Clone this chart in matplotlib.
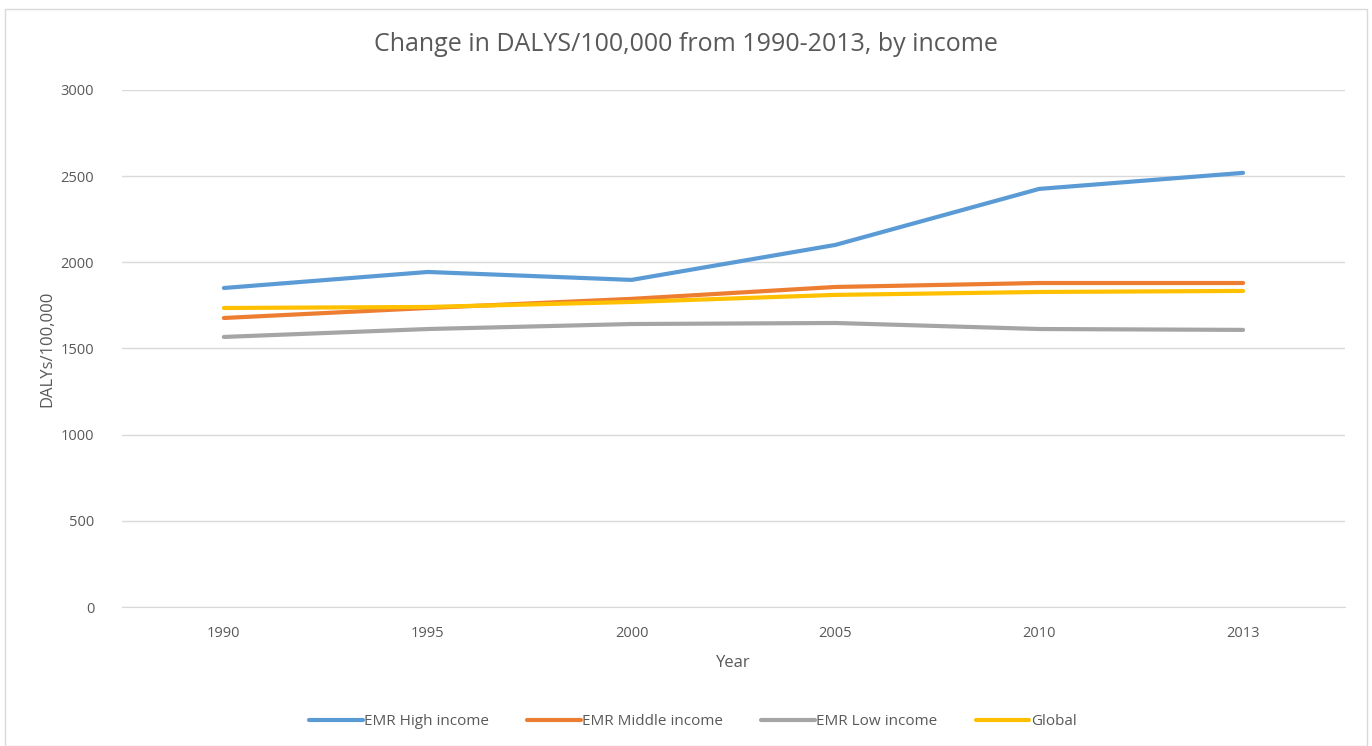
import numpy as np
import matplotlib
matplotlib.use('Agg')
import matplotlib.pyplot as plt
from matplotlib.patches import Rectangle

plt.rcParams['font.family'] = ['Open Sans', 'DejaVu Sans']

years = ['1990', '1995', '2000', '2005', '2010', '2013']
high_income = [1851, 1944, 1898, 2101, 2426, 2519]
middle_income = [1677, 1735, 1788, 1857, 1880, 1880]
low_income = [1567, 1613, 1642, 1648, 1613, 1608]
global_vals = [1735, 1741, 1770, 1811, 1828, 1834]

series = [
    ('EMR High income', high_income, '#5B9BD5'),
    ('EMR Middle income', middle_income, '#ED7D31'),
    ('EMR Low income', low_income, '#A5A5A5'),
    ('Global', global_vals, '#FFC000'),
]

fig = plt.figure(figsize=(13.72, 7.46), dpi=100)
fig.patches.append(Rectangle((5 / 1372, 0), 1362 / 1372, 737 / 746,
                             transform=fig.transFigure, fill=False,
                             edgecolor='#D9D9D9', linewidth=1))
ax = fig.add_axes([0.0889, 0.1863, 0.8914, 0.6931])

x = np.arange(len(years))
for name, vals, color in series:
    ax.plot(x, vals, color=color, linewidth=3, label=name, solid_capstyle='round')

ax.set_xlim(-0.5, len(years) - 0.5)
ax.set_ylim(0, 3000)
ax.set_yticks(np.arange(0, 3001, 500))
ax.set_xticks(x)
ax.set_xticklabels(years)
ax.grid(axis='y', color='#D9D9D9', linewidth=1)
ax.set_axisbelow(True)
for s in ['top', 'right', 'left']:
    ax.spines[s].set_visible(False)
ax.spines['bottom'].set_color('#D9D9D9')
ax.tick_params(length=0, labelsize=10.5, colors='#595959', pad=14)
ax.tick_params(axis='y', pad=20)

ax.set_xlabel('Year', fontsize=12, color='#595959', labelpad=10)
ax.set_ylabel('DALYs/100,000', fontsize=12, color='#595959', labelpad=4)
fig.text(0.5, 0.94, 'Change in DALYS/100,000 from 1990-2013, by income',
         ha='center', va='center', fontsize=18, color='#595959')

fig.legend(loc='center', bbox_to_anchor=(0.505, 0.033), ncol=4, frameon=False,
           fontsize=11, labelcolor='#595959', handlelength=3.5,
           handletextpad=0.1, columnspacing=2.5)

fig.savefig('out.png', dpi=100)
